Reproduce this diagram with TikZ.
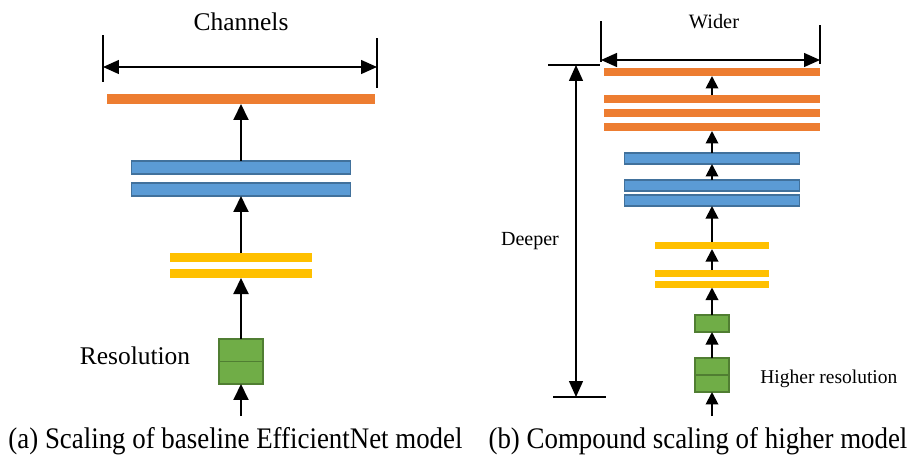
\documentclass[tikz,border=0pt]{standalone}
\usepackage{fontspec}
\setmainfont{Liberation Serif}
\usepackage{tikz}
\usetikzlibrary{arrows.meta,positioning}
\definecolor{barorange}{HTML}{ED7D31}
\definecolor{barblue}{HTML}{5B9BD5}
\definecolor{edgeblue}{HTML}{41719C}
\definecolor{baryellow}{HTML}{FFC000}
\definecolor{bargreen}{HTML}{70AD47}
\definecolor{edgegreen}{HTML}{507E32}

\begin{document}
\begin{tikzpicture}[x=0.02cm,y=-0.02cm,
 bar/.style={inner sep=0pt,outer sep=0pt,minimum width=#1},
 obar/.style={bar=#1,fill=barorange,minimum height=0.2cm},
 bbar/.style={bar=#1,fill=barblue,draw=edgeblue,line width=0.9pt,minimum height=0.26cm},
 ybar/.style={bar=#1,fill=baryellow,minimum height=0.18cm},
 gbox/.style={bar=#1,fill=bargreen,draw=edgegreen,line width=0.9pt},
 up/.style={line width=1.1pt,-{Triangle[length=0.32cm,width=0.3cm]}},
 upsmall/.style={line width=1.1pt,-{Triangle[length=0.25cm,width=0.25cm]}},
 dim/.style={line width=0.8pt,{Triangle[length=0.32cm,width=0.28cm]}-{Triangle[length=0.32cm,width=0.28cm]}},
 txt/.style={inner sep=0pt,font=\fontsize{#1}{#1}\selectfont}]
\useasboundingbox (0,0) rectangle (910,460);

% (a) baseline
\node[obar=5.38cm] (o) at (241,99) {};
\node[bbar=4.38cm] (b1) at (241,167.5) {};
\node[bbar=4.38cm] (b2) at (241,189.5) {};
\node[ybar=2.86cm] (y1) at (241,257.5) {};
\node[ybar=2.86cm] (y2) at (241,273.5) {};
\node[gbox=0.88cm,minimum height=0.9cm] (g) at (241,361.5) {};
\draw[edgegreen,line width=1.1pt] (g.west)--(g.east);
\coordinate (ain) at (241,416);
\draw[up] (ain)--(g.south);
\draw[up] (g.north)--(y2.south);
\draw[up] (y1.north)--(b2.south);
\draw[up] (b1.north)--(o.south);
\coordinate (cl) at (103,67); \coordinate (cr) at (377,67);
\draw[line width=0.8pt] (103,35)--(103,82) (377,38)--(377,88);
\draw[dim] (cl)--(cr);
\node[txt=14.5pt] (chan) at (241,22) {Channels};
\node[txt=14.5pt] (res) at (135,356) {Resolution};

% (b) compound
\node[obar=4.32cm,minimum height=0.16cm] (r1) at (712,72) {};
\node[obar=4.32cm,minimum height=0.16cm] (r2) at (712,99) {};
\node[obar=4.32cm,minimum height=0.16cm] (r3) at (712,113) {};
\node[obar=4.32cm,minimum height=0.16cm] (r4) at (712,127) {};
\node[bbar=3.5cm,minimum height=0.22cm] (c1) at (712,158.5) {};
\node[bbar=3.5cm,minimum height=0.22cm] (c2) at (712,185.5) {};
\node[bbar=3.5cm,minimum height=0.22cm] (c3) at (712,200.5) {};
\node[ybar=2.28cm,minimum height=0.14cm] (ya) at (712,245.5) {};
\node[ybar=2.28cm,minimum height=0.14cm] (yb) at (712,273.5) {};
\node[ybar=2.28cm,minimum height=0.14cm] (yc) at (712,284) {};
\node[gbox=0.68cm,minimum height=0.34cm] (gs) at (712,323.5) {};
\node[gbox=0.68cm,minimum height=0.68cm] (gb) at (712,375) {};
\draw[edgegreen,line width=1.1pt] (gb.west)--(gb.east);
\coordinate (bin) at (712,416);
\draw[upsmall] (bin)--(gb.south);
\draw[upsmall] (gb.north)--(gs.south);
\draw[upsmall] (gs.north)--(yc.south);
\draw[upsmall] (yb.north)--(ya.south);
\draw[upsmall] (ya.north)--(c3.south);
\draw[upsmall] (c2.north)--(c1.south);
\draw[upsmall] (c1.north)--(r4.south);
\draw[upsmall] (r2.north)--(r1.south);
\coordinate (wl) at (601,60); \coordinate (wr) at (820,60);
\draw[line width=0.8pt] (601,21)--(601,62) (820,25)--(820,64);
\draw[dim] (wl)--(wr);
\coordinate (dt) at (576,65); \coordinate (db) at (576,397);
\draw[line width=0.8pt] (548,65)--(600,65) (553,397)--(606,397);
\draw[dim] (dt)--(db);
\node[txt=11.6pt] (wide) at (714,22) {Wider};
\node[txt=11.4pt] (deep) at (530,241) {Deeper};
\node[txt=11.1pt,anchor=west] (hres) at (760,379) {Higher resolution};

% captions
\node[txt=17pt] (capa) at (235.5,441) {\scalebox{0.9}[1]{(a) Scaling of baseline EfficientNet model}};
\node[txt=17pt] (capb) at (698,441) {\scalebox{0.9}[1]{(b) Compound scaling of higher model}};
\end{tikzpicture}
\end{document}
